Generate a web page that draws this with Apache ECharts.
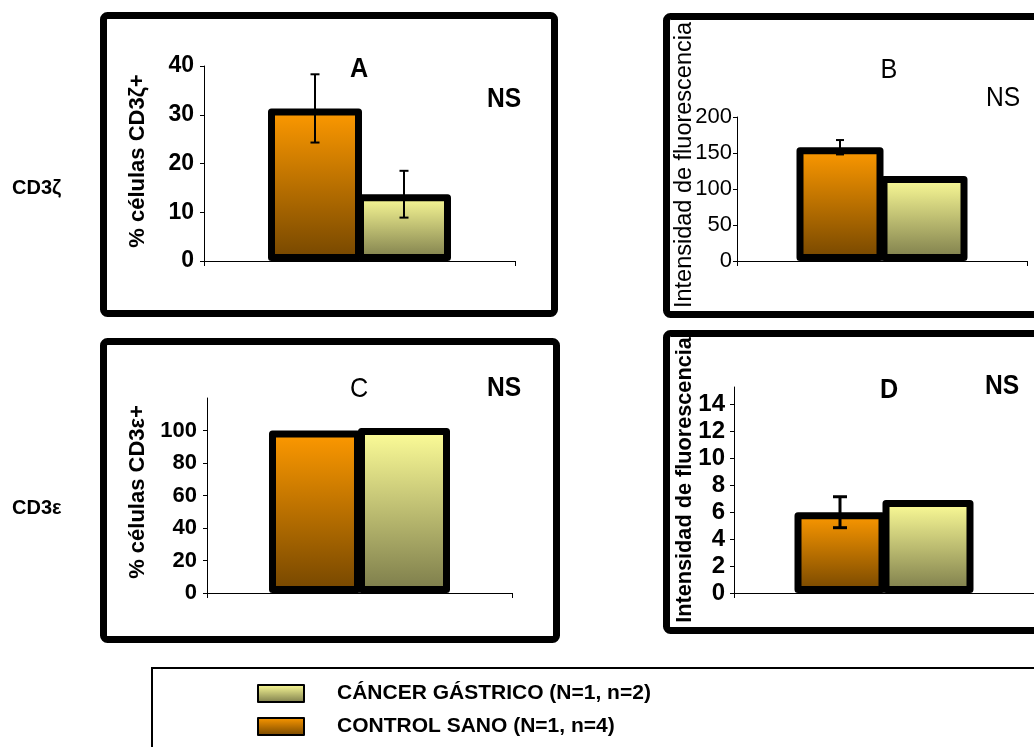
<!DOCTYPE html>
<html><head><meta charset="utf-8">
<script src="https://cdn.jsdelivr.net/npm/echarts@6/dist/echarts.min.js"></script>
<style>html,body{margin:0;padding:0;background:#fff}#c{width:1034px;height:747px}</style>
</head><body><div id="c"></div>
<script>
// ---- data ----
const panelLetters = ['A', 'B', 'C', 'D'];
const controlName = 'CONTROL SANO (N=1, n=4)';
const cancerName = 'CÁNCER GÁSTRICO (N=1, n=2)';
const legendOrder = [cancerName, controlName];
const controlValues = [31.3, 158, 100, 6.0];
const controlErrors = [7, 10, null, 1.15];
const cancerValues = [13.7, 118, 101.5, 6.9];
const cancerErrors = [4.8, null, null, null];
const yMax = [40, 200, 120, 15.3];
const yTickLabels = [[0,10,20,30,40],[0,50,100,150,200],[0,20,40,60,80,100],[0,2,4,6,8,10,12,14]];
const yTitles = ['% células CD3ζ+', 'Intensidad de fluorescencia', '% células CD3ε+', 'Intensidad de fluorescencia'];
const rowLabels = ['CD3ζ', 'CD3ε'];
const significance = ['NS', 'NS', 'NS', 'NS'];

// ---- layout / style ----
const FONT = '"Liberation Sans", Arial, sans-serif';
const grids = [
  {left: 204, top: 66, width: 311, height: 195},
  {left: 737, top: 117, width: 290, height: 144},
  {left: 207, top: 398, width: 305, height: 195},
  {left: 734, top: 387, width: 300, height: 206}
];
const barWidths = [94, 87, 92, 91];
const barOverlap = [5, 3, 3, 3];
const bold = [true, false, true, true];
const tickFont = [23, 22, 22, 24];
const labelMargin = [10, 5, 10, 9];
const titlePos = [[138, 161, 22], [685, 165, 23.5], [138, 492, 22], [685, 480, 21.7]];
const letterPos = [[359, 69, true], [889, 70, false], [359, 389, false], [889, 390, true]];
const nsPos = [[504, 99, true], [1003, 98, false], [504, 388, true], [1002, 386, true]];
const errStyle = [[2, 9], [2, 8], [2, 9], [3, 14]];

const orangeGrad = new echarts.graphic.LinearGradient(0, 0, 0, 1, [
  {offset: 0, color: '#ff9a00'}, {offset: 1, color: '#744600'}]);
const yellowGrad = new echarts.graphic.LinearGradient(0, 0, 0, 1, [
  {offset: 0, color: '#ffff99'}, {offset: 1, color: '#7b7b4a'}]);

const xAxes = [], yAxes = [], series = [], graphics = [];
grids.forEach((g, i) => {
  xAxes.push({
    gridIndex: i, type: 'category', data: [''], boundaryGap: true,
    axisLine: {lineStyle: {color: '#000', width: 1}},
    axisTick: {show: true, length: 5, lineStyle: {color: '#000'}},
    axisLabel: {show: false}
  });
  yAxes.push({
    gridIndex: i, type: 'value', min: 0, max: yMax[i],
    splitLine: {show: false},
    axisLine: {show: true, lineStyle: {color: '#000', width: 1}},
    axisTick: {show: true, length: 4, customValues: yTickLabels[i], lineStyle: {color: '#000'}},
    axisLabel: {customValues: yTickLabels[i], margin: labelMargin[i], color: '#000',
      fontSize: tickFont[i], fontWeight: bold[i] ? 'bold' : 'normal', fontFamily: FONT}
  });
  const gap = (-barOverlap[i] / barWidths[i] * 100).toFixed(2) + '%';
  series.push({
    name: controlName, type: 'bar', xAxisIndex: i, yAxisIndex: i,
    barWidth: barWidths[i], barGap: gap, data: [controlValues[i]],
    itemStyle: {color: orangeGrad, borderColor: '#000', borderWidth: 7, borderJoin: 'round'},
    emphasis: {disabled: true}, z: 2
  });
  series.push({
    name: cancerName, type: 'bar', xAxisIndex: i, yAxisIndex: i,
    barWidth: barWidths[i], barGap: gap, data: [cancerValues[i]],
    itemStyle: {color: yellowGrad, borderColor: '#000', borderWidth: 7, borderJoin: 'round'},
    emphasis: {disabled: true}, z: 2
  });
  const errData = [];
  if (controlErrors[i] != null) errData.push([0, controlValues[i], controlErrors[i], -1]);
  if (cancerErrors[i] != null) errData.push([0, cancerValues[i], cancerErrors[i], 1]);
  const half = (barWidths[i] - barOverlap[i]) / 2, lw = errStyle[i][0], cap = errStyle[i][1];
  series.push({
    name: 'err' + i, type: 'custom', xAxisIndex: i, yAxisIndex: i, z: 5,
    data: errData,
    renderItem: function (params, api) {
      const v = api.value(1), e = api.value(2), side = api.value(3);
      const top = api.coord([api.value(0), v + e]);
      const bot = api.coord([api.value(0), v - e]);
      const cx = top[0] + side * half;
      const st = {stroke: '#000', lineWidth: lw};
      return {type: 'group', children: [
        {type: 'line', shape: {x1: cx, y1: top[1], x2: cx, y2: bot[1]}, style: st},
        {type: 'line', shape: {x1: cx - cap / 2, y1: top[1], x2: cx + cap / 2, y2: top[1]}, style: st},
        {type: 'line', shape: {x1: cx - cap / 2, y1: bot[1], x2: cx + cap / 2, y2: bot[1]}, style: st}
      ]};
    }
  });
  graphics.push({type: 'text', x: titlePos[i][0], y: titlePos[i][1], rotation: Math.PI / 2,
    style: {text: yTitles[i], fill: '#000', font: (bold[i] ? 'bold ' : '') + titlePos[i][2] + 'px ' + FONT,
      textAlign: 'center', textVerticalAlign: 'middle'}});
  graphics.push({type: 'text', x: letterPos[i][0], y: letterPos[i][1], scaleX: 0.9,
    style: {text: panelLetters[i], fill: '#000', font: (letterPos[i][2] ? 'bold ' : '') + '28px ' + FONT,
      textAlign: 'center', textVerticalAlign: 'middle'}});
  graphics.push({type: 'text', x: nsPos[i][0], y: nsPos[i][1], scaleX: 0.88,
    style: {text: significance[i], fill: '#000', font: (nsPos[i][2] ? 'bold ' : '') + '28px ' + FONT,
      textAlign: 'center', textVerticalAlign: 'middle'}});
});

// panel frames
[[103.5, 15.5, 451, 298], [666.5, 16.5, 420, 298], [103.5, 341.5, 453, 298], [666.5, 333.5, 420, 297]]
  .forEach(r => graphics.push({type: 'rect', z: -1, shape: {x: r[0], y: r[1], width: r[2], height: r[3], r: 4},
    style: {fill: 'none', stroke: '#000', lineWidth: 7}}));
// legend frame
graphics.push({type: 'rect', z: -1, shape: {x: 152, y: 668, width: 1000, height: 200},
  style: {fill: 'none', stroke: '#000', lineWidth: 2}});
// row labels
graphics.push({type: 'text', x: 12, y: 188, style: {text: rowLabels[0], fill: '#000', font: 'bold 20px ' + FONT, textVerticalAlign: 'middle'}});
graphics.push({type: 'text', x: 12, y: 508, style: {text: rowLabels[1], fill: '#000', font: 'bold 20px ' + FONT, textVerticalAlign: 'middle'}});

const chart = echarts.init(document.getElementById('c'), null, {renderer: 'canvas'});
chart.setOption({
  backgroundColor: '#fff',
  animation: false,
  grid: grids,
  xAxis: xAxes,
  yAxis: yAxes,
  series: series,
  legend: {
    data: legendOrder, orient: 'vertical', left: 257, top: 682.5, padding: 0, height: 64,
    icon: 'rect', itemWidth: 46, itemHeight: 17, itemGap: 11, selectedMode: false,
    itemStyle: {borderWidth: 2, borderColor: '#000'},
    textStyle: {fontSize: 21, fontWeight: 'bold', fontFamily: FONT, color: '#000', lineHeight: 22, padding: [0, 0, 0, 28]}
  },
  graphic: graphics
});
</script></body></html>
